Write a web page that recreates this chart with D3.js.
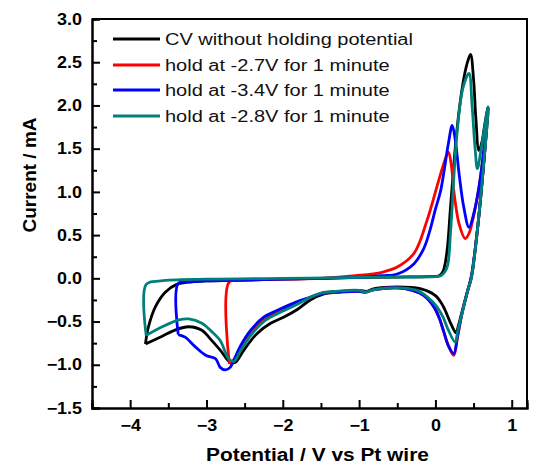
<!DOCTYPE html>
<html>
<head>
<meta charset="utf-8">
<script src="https://cdn.jsdelivr.net/npm/d3@7/dist/d3.min.js"></script>
<style>
  body { margin: 0; background: #fff; }
  text { font-family: "Liberation Sans", Arial, sans-serif; }
</style>
</head>
<body>
<svg id="chart" width="539" height="466"></svg>
<script>
// ---- data: potential (V vs Pt wire), current (mA) ----
const seriesNames = [
  "CV without holding potential",
  "hold at -2.7V for 1 minute",
  "hold at -3.4V for 1 minute",
  "hold at -2.8V for 1 minute"
];

const cvNoHold = [
  [-3.80,-0.76],[-3.76,-0.56],[-3.67,-0.33],[-3.54,-0.16],[-3.39,-0.07],[-3.2,-0.04],[-3.0,-0.03],
  [-2.5,-0.02],[-2.0,-0.01],[-1.5,0.0],[-1.0,0.01],[-0.5,0.015],[-0.1,0.02],[0.05,0.03],[0.1,0.08],
  [0.15,0.3],[0.2,0.85],[0.28,1.7],[0.36,2.25],[0.42,2.5],[0.46,2.59],[0.5,2.3],[0.53,1.85],
  [0.57,1.48],[0.61,1.58],[0.65,1.8],[0.69,1.98],[0.63,1.3],[0.55,0.56],[0.47,0.0],[0.42,-0.15],
  [0.35,-0.38],[0.3,-0.55],[0.27,-0.63],[0.2,-0.52],[0.1,-0.32],[0.0,-0.2],[-0.2,-0.12],
  [-0.5,-0.1],[-0.8,-0.12],[-0.9,-0.15],[-1.0,-0.14],[-1.29,-0.16],[-1.46,-0.18],[-1.64,-0.25],
  [-1.81,-0.36],[-1.99,-0.45],[-2.16,-0.52],[-2.34,-0.64],[-2.51,-0.83],[-2.62,-0.97],[-2.69,-0.97],
  [-2.82,-0.83],[-2.95,-0.70],[-3.06,-0.6],[-3.23,-0.56],[-3.39,-0.59],[-3.58,-0.67],[-3.80,-0.76]
];

const cvHold27 = [
  [-2.70,-0.99],[-2.70,-0.04],[-2.5,-0.02],[-2.0,-0.01],[-1.5,0.0],[-1.05,0.03],[-0.7,0.07],
  [-0.5,0.13],[-0.28,0.29],[-0.11,0.67],[0.02,1.06],[0.1,1.3],[0.17,1.46],[0.21,1.3],[0.24,1.02],
  [0.31,0.63],[0.39,0.46],[0.44,0.52],[0.5,0.72],[0.57,1.05],[0.63,1.45],[0.69,1.98],[0.63,1.3],
  [0.55,0.56],[0.47,0.02],[0.42,-0.15],[0.35,-0.4],[0.29,-0.68],[0.24,-0.89],[0.17,-0.78],
  [0.11,-0.62],[0.05,-0.46],[-0.02,-0.33],[-0.15,-0.2],[-0.3,-0.14],[-0.5,-0.11],[-0.8,-0.13],
  [-0.92,-0.16],[-1.0,-0.15],[-1.29,-0.16],[-1.46,-0.17],[-1.64,-0.22],[-1.81,-0.29],[-2.07,-0.39],
  [-2.25,-0.47],[-2.42,-0.62],[-2.56,-0.81],[-2.65,-0.95],[-2.70,-0.99]
];

const cvHold34 = [
  [-3.37,-0.65],[-3.37,-0.06],[-3.2,-0.04],[-3.0,-0.03],[-2.5,-0.02],[-2.0,-0.01],[-1.5,0.0],
  [-1.0,0.01],[-0.7,0.03],[-0.5,0.05],[-0.28,0.17],[-0.15,0.35],[-0.07,0.56],[0.0,0.8],[0.07,1.02],
  [0.17,1.56],[0.22,1.77],[0.26,1.6],[0.31,1.21],[0.37,0.83],[0.44,0.59],[0.5,0.74],[0.57,1.05],
  [0.63,1.45],[0.69,1.98],[0.63,1.3],[0.55,0.56],[0.47,0.02],[0.42,-0.15],[0.35,-0.4],[0.29,-0.66],
  [0.24,-0.87],[0.17,-0.78],[0.11,-0.62],[0.05,-0.46],[-0.02,-0.33],[-0.15,-0.2],[-0.3,-0.14],
  [-0.5,-0.11],[-0.8,-0.13],[-0.92,-0.16],[-1.0,-0.15],[-1.29,-0.16],[-1.46,-0.17],[-1.64,-0.22],
  [-1.81,-0.27],[-2.07,-0.37],[-2.25,-0.45],[-2.42,-0.6],[-2.56,-0.79],[-2.69,-1.03],[-2.75,-1.06],
  [-2.82,-1.03],[-2.88,-0.93],[-3.01,-0.89],[-3.15,-0.79],[-3.28,-0.68],[-3.37,-0.65]
];

const cvHold28 = [
  [-3.79,-0.66],[-3.79,-0.07],[-3.6,-0.03],[-3.0,-0.01],[-2.0,0.0],[-1.0,0.01],[-0.5,0.015],
  [0.0,0.02],[0.07,0.03],[0.12,0.07],[0.16,0.15],[0.2,0.56],[0.28,1.65],[0.36,2.2],[0.44,2.37],
  [0.48,2.0],[0.52,1.5],[0.55,1.27],[0.6,1.5],[0.69,1.98],[0.63,1.3],[0.55,0.56],[0.47,0.0],
  [0.42,-0.15],[0.35,-0.4],[0.29,-0.62],[0.26,-0.74],[0.17,-0.6],[0.1,-0.45],[0.02,-0.33],
  [-0.1,-0.22],[-0.24,-0.14],[-0.5,-0.11],[-0.8,-0.13],[-0.92,-0.16],[-1.0,-0.14],[-1.3,-0.15],
  [-1.5,-0.17],[-1.64,-0.22],[-1.81,-0.3],[-2.07,-0.41],[-2.25,-0.5],[-2.42,-0.66],[-2.56,-0.85],
  [-2.64,-0.96],[-2.71,-0.93],[-2.82,-0.72],[-2.95,-0.6],[-3.06,-0.52],[-3.23,-0.47],[-3.36,-0.48],
  [-3.58,-0.56],[-3.79,-0.66]
];

const seriesData = [cvNoHold, cvHold27, cvHold34, cvHold28];
const seriesColors = ["#000000", "#ff0000", "#0000ff", "#00807a"];

const xTicks = [-4, -3, -2, -1, 0, 1];
const xMinorTicks = [-4.5, -3.5, -2.5, -1.5, -0.5, 0.5];
const yTicks = [-1.5, -1.0, -0.5, 0.0, 0.5, 1.0, 1.5, 2.0, 2.5, 3.0];
const yMinorTicks = [-1.25, -0.75, -0.25, 0.25, 0.75, 1.25, 1.75, 2.25, 2.75];

// ---- layout ----
const svg = d3.select("#chart");
const L = 92, R = 527, T = 19, B = 408;

const x = d3.scaleLinear().domain([-4.5, 1.2]).range([L, R]);
const y = d3.scaleLinear().domain([-1.5, 3.0]).range([B, T]);

// widen glyphs horizontally by factor k
function stretch(sel, k) {
  sel.each(function () {
    const w = this.getComputedTextLength();
    this.setAttribute("textLength", w * k);
    this.setAttribute("lengthAdjust", "spacingAndGlyphs");
  });
}

// curves
const line = d3.line()
  .x(d => x(d[0]))
  .y(d => y(d[1]))
  .curve(d3.curveCatmullRom.alpha(0.5));

svg.append("g").selectAll("path")
  .data(seriesData)
  .join("path")
  .attr("d", line)
  .attr("fill", "none")
  .attr("stroke", (d, i) => seriesColors[i])
  .attr("stroke-width", 2.8)
  .attr("stroke-linejoin", "round");

// axes (ticks point inward)
svg.append("g")
  .attr("transform", `translate(0,${B})`)
  .call(d3.axisBottom(x).tickValues(xTicks).tickSize(-8).tickPadding(12).tickFormat(d3.format("d")));
svg.append("g")
  .attr("transform", `translate(0,${B})`)
  .call(d3.axisBottom(x).tickValues(xMinorTicks).tickSize(-5).tickFormat(""));

svg.append("g")
  .attr("transform", `translate(${L},0)`)
  .call(d3.axisLeft(y).tickValues(yTicks).tickSize(-8).tickPadding(10).tickFormat(d3.format(".1f")));
svg.append("g")
  .attr("transform", `translate(${L},0)`)
  .call(d3.axisLeft(y).tickValues(yMinorTicks).tickSize(-5).tickFormat(""));

svg.selectAll(".domain").attr("stroke", "#000").attr("stroke-width", 2);
svg.selectAll(".tick line").attr("stroke", "#000").attr("stroke-width", 2);
svg.selectAll(".tick text")
  .attr("fill", "#000")
  .style("font-size", "16px")
  .style("font-weight", "bold")
  .style("font-family", "'Liberation Sans', Arial, sans-serif");
stretch(svg.selectAll(".tick text"), 1.12);

// top and right frame
svg.append("path")
  .attr("d", `M${L},${T}H${R}V${B}`)
  .attr("fill", "none")
  .attr("stroke", "#000")
  .attr("stroke-width", 2);

// axis titles
const xt = svg.append("text")
  .attr("x", (L + R) / 2 + 8)
  .attr("y", 461)
  .attr("text-anchor", "middle")
  .style("font-size", "18px")
  .style("font-weight", "bold")
  .text("Potential / V vs Pt wire");
stretch(xt, 1.16);

svg.append("text")
  .attr("transform", `translate(36,175) rotate(-90)`)
  .attr("text-anchor", "middle")
  .style("font-size", "19px")
  .style("font-weight", "bold")
  .text("Current / mA");

// legend
const legendRows = [39, 65, 90, 116];
const lg = svg.append("g");
seriesNames.forEach((name, i) => {
  lg.append("line")
    .attr("x1", 113).attr("x2", 160)
    .attr("y1", legendRows[i]).attr("y2", legendRows[i])
    .attr("stroke", seriesColors[i])
    .attr("stroke-width", 2.8);
  const t = lg.append("text")
    .attr("x", 165)
    .attr("y", legendRows[i])
    .attr("dy", "0.36em")
    .style("font-size", "16px")
    .attr("fill", "#111")
    .text(name);
  stretch(t, 1.25);
});
</script>
</body>
</html>
